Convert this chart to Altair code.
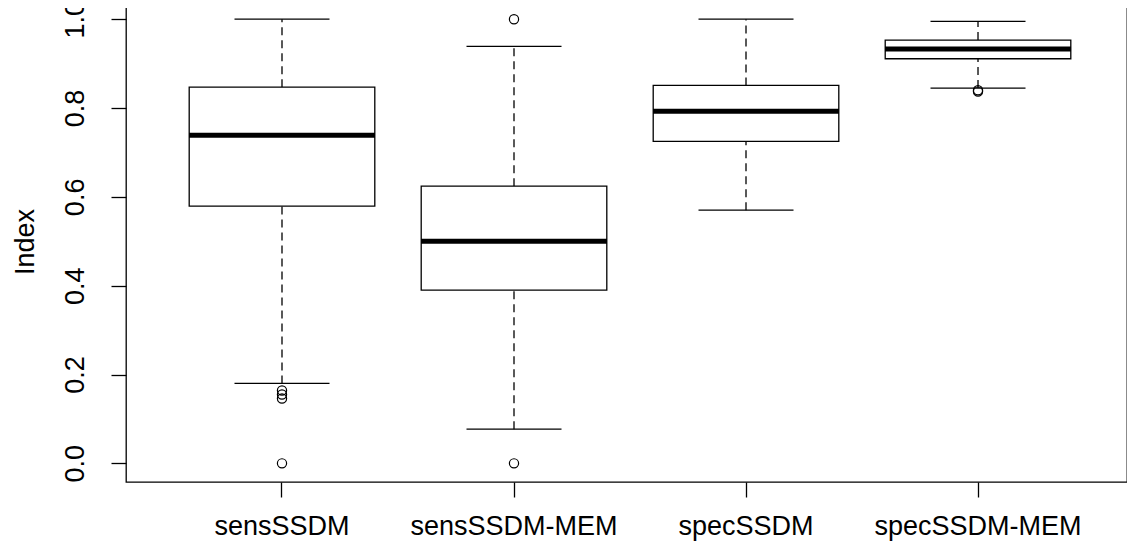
import altair as alt
import pandas as pd

cats = ["sensSSDM", "sensSSDM-MEM", "specSSDM", "specSSDM-MEM"]
lower = [0.180, 0.077, 0.570, 0.845]
q1 = [0.579, 0.390, 0.725, 0.911]
median = [0.739, 0.500, 0.793, 0.933]
q3 = [0.847, 0.624, 0.851, 0.953]
upper = [1.000, 0.939, 1.000, 0.995]

out_cat = ["sensSSDM", "sensSSDM", "sensSSDM", "sensSSDM",
           "sensSSDM-MEM", "sensSSDM-MEM",
           "specSSDM-MEM", "specSSDM-MEM"]
out_val = [0.164, 0.155, 0.146, 0.0,
           1.0, 0.0,
           0.840, 0.837]

box_df = pd.DataFrame({"cat": cats, "lower": lower, "q1": q1, "median": median,
                       "q3": q3, "upper": upper})
out_df = pd.DataFrame({"cat": out_cat, "val": out_val})

FONT = "Liberation Sans"

xenc = alt.X("cat:N",
             scale=alt.Scale(domain=cats, paddingInner=0, paddingOuter=0.1573, align=0.548),
             axis=alt.Axis(title=None, labelAngle=0, labelFontSize=27, labelFont=FONT,
                           labelColor="#000", tickSize=15, tickColor="#000", tickWidth=1.3,
                           labelPadding=16, labelLimit=0, domain=False, grid=False))
yscale = alt.Scale(domain=[-0.042, 1.041], nice=False, zero=False)
yaxis = alt.Axis(title="Index", values=[0, 0.2, 0.4, 0.6, 0.8, 1.0], format=".1f",
                 labelAngle=270, labelFontSize=27, labelFont=FONT, labelColor="#000",
                 tickSize=15, tickColor="#000", tickWidth=1.3, labelPadding=22,
                 labelLimit=0, domain=False, grid=False, titleFontSize=27, titleFont=FONT,
                 titleFontWeight="normal", titleColor="#000", titlePadding=22)

base = alt.Chart(box_df)

whisk_lo = base.mark_rule(color="black", strokeWidth=1.3, strokeDash=[8, 5]).encode(
    x=xenc, y=alt.Y("lower:Q", scale=yscale, axis=yaxis), y2="q1:Q")
whisk_hi = base.mark_rule(color="black", strokeWidth=1.3, strokeDash=[8, 5]).encode(
    x=xenc, y=alt.Y("q3:Q", scale=yscale, axis=yaxis), y2="upper:Q")
cap_lo = base.mark_tick(color="black", size=95, thickness=1.3, orient="horizontal",
                        opacity=1).encode(
    x=xenc, y=alt.Y("lower:Q", scale=yscale, axis=yaxis))
cap_hi = base.mark_tick(color="black", size=95, thickness=1.3, orient="horizontal",
                        opacity=1).encode(
    x=xenc, y=alt.Y("upper:Q", scale=yscale, axis=yaxis))
box = base.mark_bar(fill="white", stroke="black", strokeWidth=1.3, opacity=1,
                    width=alt.RelativeBandSize(0.8)).encode(
    x=xenc, y=alt.Y("q1:Q", scale=yscale, axis=yaxis), y2="q3:Q")
med = base.mark_tick(color="black", size=186, thickness=5, orient="horizontal",
                     opacity=1).encode(
    x=xenc, y=alt.Y("median:Q", scale=yscale, axis=yaxis))
pts = alt.Chart(out_df).mark_point(shape="circle", size=85, filled=False, color="black",
                                   strokeWidth=1.2, opacity=1).encode(
    x=xenc, y=alt.Y("val:Q", scale=yscale, axis=yaxis))

chart = alt.layer(whisk_lo, whisk_hi, cap_lo, cap_hi, box, med, pts).properties(
    width=1001, height=481,
    padding={"left": 118, "top": -7, "right": 0, "bottom": 61},
    autosize=alt.AutoSizeParams(type="none"),
    background="white",
).configure_view(stroke="black", strokeWidth=1.3)

chart.save("out.html", embed_options={"renderer": "svg", "actions": False})
